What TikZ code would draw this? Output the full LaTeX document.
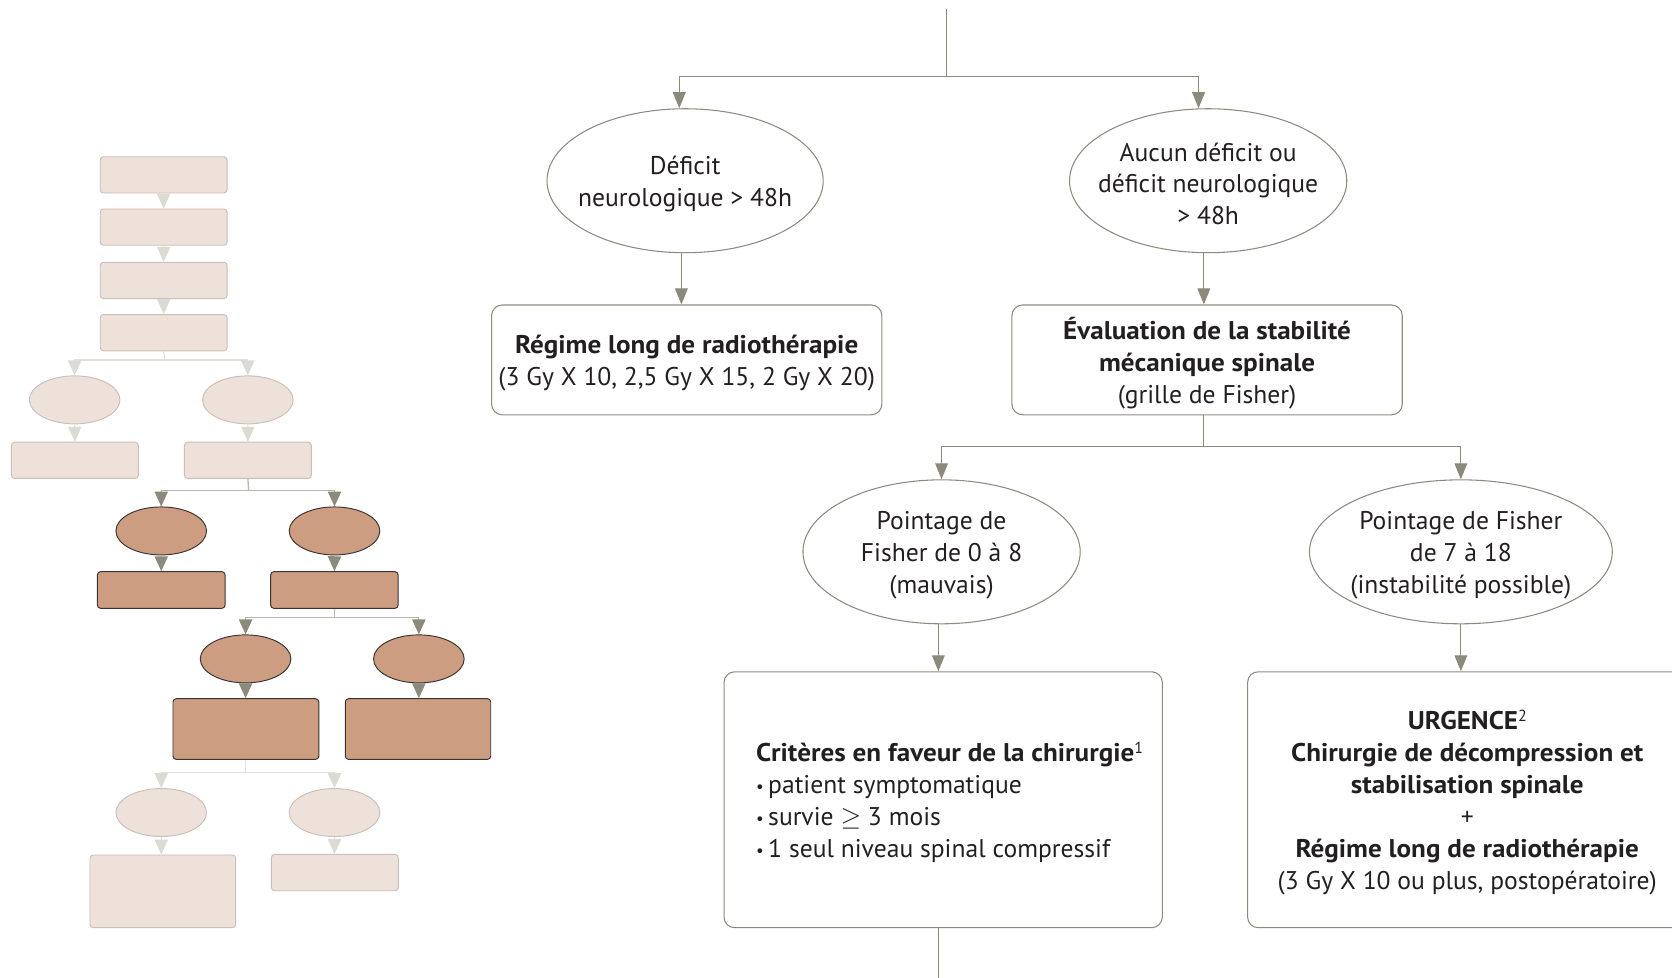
\documentclass[tikz,border=0pt]{standalone}
\usepackage{fontspec}
\setmainfont{PT Sans}[BoldFeatures={FakeStretch=1.06}]
\usetikzlibrary{shapes.geometric,arrows.meta}

\definecolor{ink}{HTML}{231F20}
\definecolor{ln}{HTML}{8C8B7B}
\definecolor{bord}{HTML}{8E8A7E}
\definecolor{lfill}{HTML}{EEE1D9}
\definecolor{lbord}{HTML}{C9C0BC}
\definecolor{larrow}{HTML}{DBDAD3}
\definecolor{lline}{HTML}{E0DFD9}
\definecolor{dfill}{HTML}{CC9D80}
\definecolor{dbord}{HTML}{3A3533}
\definecolor{dline}{HTML}{B7B7AB}

\tikzset{
  conn/.style={draw=ln, line width=1pt},
  arr/.style={conn, -{Triangle[width=12pt,length=15pt]}},
  mainell/.style={shape=ellipse, draw=bord, line width=1pt, inner sep=0pt, minimum height=135pt},
  mainbox/.style={draw=bord, line width=1pt, rounded corners=10pt, inner sep=0pt},
  txt/.style={text=ink, align=center, inner sep=0pt, font=\fontsize{24}{30}\selectfont},
  % overview miniature
  lbox/.style={fill=lfill, draw=lbord, line width=0.9pt, rounded corners=3pt, inner sep=0pt},
  dbox/.style={fill=dfill, draw=dbord, line width=0.9pt, rounded corners=3pt, inner sep=0pt},
  lell/.style={shape=ellipse, fill=lfill, draw=lbord, line width=0.9pt, inner sep=0pt, minimum width=85pt, minimum height=45pt},
  dell/.style={shape=ellipse, fill=dfill, draw=dbord, line width=0.9pt, inner sep=0pt, minimum width=85pt, minimum height=45pt},
  lconn/.style={draw=lline, line width=1pt},
  larr/.style={draw=lline, line width=1pt, -{Triangle[width=12.5pt,length=14pt,color=larrow]}},
  dconn/.style={draw=dline, line width=1.2pt},
  darr/.style={draw=dline, line width=1.2pt, -{Triangle[width=12.5pt,length=14pt,color=ln]}},
}
\newcommand{\ptbullet}{{\fontsize{16}{30}\selectfont\raisebox{1.5pt}{•}}\,}
\newcommand{\fnmark}[1]{\raisebox{8pt}{\fontsize{15}{15}\selectfont #1}}

\begin{document}
\begin{tikzpicture}[x=1pt,y=-1pt]
\useasboundingbox (0,0) rectangle (1568,917);
\clip (0,0) rectangle (1568,917);

% ---------- overview miniature ----------
\node[lbox, minimum width=119pt, minimum height=34pt] (ma) at (153.5,164) {};
\node[lbox, minimum width=119pt, minimum height=34pt] (mb) at (153.5,213) {};
\node[lbox, minimum width=119pt, minimum height=34pt] (mc) at (153.5,263) {};
\node[lbox, minimum width=119pt, minimum height=34pt] (md) at (153.5,312) {};
\draw[larr] (ma.south) -- (mb.north);
\draw[larr] (mb.south) -- (mc.north);
\draw[larr] (mc.south) -- (md.north);

\node[lell] (mea) at (70,375) {};
\node[lell] (meb) at (232.4,375) {};
\coordinate (ms1) at (154.5,337.6);
\draw[lconn] (md.south) -- (ms1);
\draw[larr] (ms1) -| (mea.north);
\draw[larr] (ms1) -| (meb.north);

\node[lbox, minimum width=119pt, minimum height=34pt] (me) at (70.2,431.7) {};
\node[lbox, minimum width=119pt, minimum height=34pt] (mf) at (232.5,431.7) {};
\draw[larr] (mea.south) -- (me.north);
\draw[larr] (meb.south) -- (mf.north);

\node[dell] (mec) at (151.2,497.9) {};
\node[dell] (med) at (313.7,497.9) {};
\coordinate (ms2) at (233.2,460.2);
\draw[dconn] (mf.south) -- (ms2);
\draw[darr] (ms2) -| (mec.north);
\draw[darr] (ms2) -| (med.north);

\node[dbox, minimum width=119.7pt, minimum height=34.4pt] (mg) at (151.2,553.3) {};
\node[dbox, minimum width=119.5pt, minimum height=34.4pt] (mh) at (313.6,553.3) {};
\draw[darr] (mec.south) -- (mg.north);
\draw[darr] (med.south) -- (mh.north);

\node[dell] (mee) at (230.3,617.9) {};
\node[dell] (mef) at (392.8,617.9) {};
\coordinate (ms3) at (313.6,579.3);
\draw[dconn] (mh.south) -- (ms3);
\draw[darr] (ms3) -| (mee.north);
\draw[darr] (ms3) -| (mef.north);

\node[dbox, minimum width=136.7pt, minimum height=56.9pt] (mi) at (230.6,683.7) {};
\node[dbox, minimum width=136.4pt, minimum height=56.9pt] (mj) at (392,683.7) {};
\draw[darr] (mee.south) -- (mee.south |- mi.north);
\draw[darr] (mef.south) -- (mef.south |- mj.north);

\node[lell] (meg) at (151.2,762) {};
\node[lell] (meh) at (313.7,762) {};
\coordinate (ms4) at (230.6,724.3);
\draw[lconn] (mi.south) -- (ms4);
\draw[larr] (ms4) -| (meg.north);
\draw[larr] (ms4) -| (meh.north);

\node[lbox, minimum width=136.6pt, minimum height=68.2pt] (mk) at (152.7,835.9) {};
\node[lbox, minimum width=119pt, minimum height=34.1pt] (ml) at (314,818.3) {};
\draw[larr] (meg.south) -- (meg.south |- mk.north);
\draw[larr] (meh.south) -- (meh.south |- ml.north);

% ---------- main flow ----------
\coordinate (top) at (888,8);
\coordinate (j1) at (888,72);

\node[mainell, minimum width=259pt] (e1) at (642.5,169.5) {};
\node[txt] at (642.5,172.5) {Déficit\\neurologique > 48h};
\node[mainell, minimum width=260pt] (e2) at (1133,169.5) {};
\node[txt] at (1133,172.5) {Aucun déficit ou\\déficit neurologique\\> 48h};

\draw[conn] (top) -- (j1);
\draw[arr] (j1) -| ([xshift=-5.5pt]e1.north);
\draw[arr] (j1) -| ([xshift=-9pt]e2.north);

\node[mainbox, minimum width=366pt, minimum height=103pt] (b1) at (644,337.5) {};
\node[txt] at (644,340.5) {\textbf{Régime long de radiothérapie}\\(3 Gy X 10, 2,5 Gy X 15, 2 Gy X 20)};
\node[mainbox, minimum width=366pt, minimum height=103pt] (b2) at (1132,337.5) {};
\node[txt] at (1132,340.5) {\textbf{Évaluation de la stabilité}\\\textbf{mécanique spinale}\\(grille de Fisher)};

\draw[arr] ([xshift=-3.5pt]e1.south) -- ([xshift=-3.5pt]e1.south |- b1.north);
\draw[arr] ([xshift=-4pt]e2.south) -- ([xshift=-4pt]e2.south |- b2.north);

\node[mainell, minimum width=260pt] (e3) at (883,517.5) {};
\node[txt] at (883,520.5) {Pointage de\\Fisher de 0 à 8\\(mauvais)};
\node[mainell, minimum width=284pt] (e4) at (1370,517.5) {};
\node[txt] at (1370,520.5) {Pointage de Fisher\\de 7 à 18\\(instabilité possible)};

\coordinate (j2) at (1129,419);
\draw[conn] (b2.south -| j2) -- (j2);
\draw[arr] (j2) -| (e3.north);
\draw[arr] (j2) -| (e4.north);

\node[mainbox, minimum width=411pt, minimum height=240pt] (b3) at (884.5,750) {};
\node[txt, anchor=west, align=left] at (709,752.5) {\textbf{Critères en faveur de la chirurgie}\fnmark{1}\\\ptbullet patient symptomatique\\\ptbullet survie \ensuremath{\geq} 3 mois\\\ptbullet 1 seul niveau spinal compressif};
\node[mainbox, minimum width=411pt, minimum height=240pt] (b4) at (1375.5,750) {};
\node[txt] at (1376,752.5) {\textbf{URGENCE}\fnmark{2}\\\textbf{Chirurgie de décompression et}\\\textbf{stabilisation spinale}\\+\\\textbf{Régime long de radiothérapie}\\(3 Gy X 10 ou plus, postopératoire)};

\draw[arr] ([xshift=-3pt]e3.south) -- ([xshift=-3pt]e3.south |- b3.north);
\draw[arr] (e4.south) -- (e4.south |- b4.north);

\coordinate (bot) at (880,920);
\draw[conn] (b3.south -| bot) -- (bot);
\end{tikzpicture}
\end{document}
